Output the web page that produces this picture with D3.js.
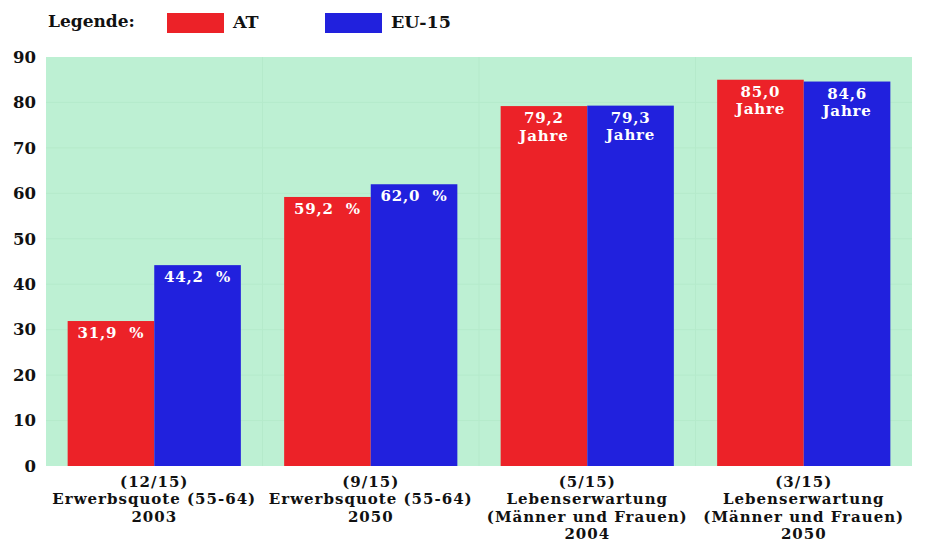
<!DOCTYPE html>
<html>
<head>
<meta charset="utf-8">
<script src="https://cdn.jsdelivr.net/npm/d3@7"></script>
<style>
  html, body { margin: 0; padding: 0; background: #ffffff; }
  svg { display: block; }
  text { font-family: "DejaVu Serif", "Liberation Serif", serif; font-weight: bold; }
</style>
</head>
<body>
<svg id="chart" width="932" height="544"></svg>
<script>
// Categories (multi-line labels), series and tick values
const categories = ["g2003", "g2050a", "g2004", "g2050b"];
const categoryLines = [
  ["(12/15)", "Erwerbsquote (55-64)", "2003"],
  ["(9/15)", "Erwerbsquote (55-64)", "2050"],
  ["(5/15)", "Lebenserwartung", "(Männer und Frauen)", "2004"],
  ["(3/15)", "Lebenserwartung", "(Männer und Frauen)", "2050"]
];
const seriesNames = ["AT", "EU-15"];
const valuesAT = [31.9, 59.2, 79.2, 85.0];
const valuesEU = [44.2, 62.0, 79.3, 84.6];
const unitsPerCategory = ["%", "%", "Jahre", "Jahre"];
const yTicks = [0, 10, 20, 30, 40, 50, 60, 70, 80, 90];
const colors = ["#ec2228", "#2121dd"];

const svg = d3.select("#chart");
const plot = { left: 46, right: 912, top: 57, bottom: 466 };

const x = d3.scaleBand().domain(categories).range([plot.left, plot.right])
  .paddingInner(0.2).paddingOuter(0.1);
const xs = d3.scaleBand().domain(seriesNames).range([0, x.bandwidth()]);
const y = d3.scaleLinear().domain([0, 90]).range([plot.bottom, plot.top]);

// Plot background
svg.append("rect")
  .attr("x", plot.left).attr("y", plot.top)
  .attr("width", plot.right - plot.left).attr("height", plot.bottom - plot.top)
  .attr("fill", "#bdf0d3");

// Faint horizontal grid lines
svg.append("g").selectAll("line").data(yTicks.slice(1, -1)).join("line")
  .attr("x1", plot.left).attr("x2", plot.right)
  .attr("y1", d => y(d)).attr("y2", d => y(d))
  .attr("stroke", "#b5eacb").attr("stroke-width", 1);

// Faint vertical separators between groups
const step = x.step();
svg.append("g").selectAll("line").data(categories.slice(1)).join("line")
  .attr("x1", d => x(d) - step * 0.1).attr("x2", d => x(d) - step * 0.1)
  .attr("y1", plot.top).attr("y2", plot.bottom)
  .attr("stroke", "#b5eacb").attr("stroke-width", 1);

// Y axis labels
const yAxis = d3.axisLeft(y).tickValues(yTicks).tickSize(0).tickPadding(10);
const ga = svg.append("g").attr("transform", `translate(${plot.left},0)`).call(yAxis);
ga.select(".domain").remove();
ga.selectAll("text")
  .style("font-family", "'DejaVu Serif', serif")
  .attr("font-weight", "bold").attr("font-size", 16.5).attr("fill", "#111");

// Bars
const rows = categories.map((c, i) => ({ c, i, vals: [valuesAT[i], valuesEU[i]] }));
const groups = svg.append("g").selectAll("g").data(rows).join("g")
  .attr("transform", d => `translate(${x(d.c)},0)`);

groups.selectAll("rect").data(d => d.vals.map((v, k) => ({ v, k, i: d.i }))).join("rect")
  .attr("x", d => xs(seriesNames[d.k]))
  .attr("y", d => y(d.v))
  .attr("width", xs.bandwidth())
  .attr("height", d => y(0) - y(d.v))
  .attr("fill", d => colors[d.k]);

// Value labels inside bars
groups.selectAll("text.val").data(d => d.vals.map((v, k) => ({ v, k, i: d.i }))).join("text")
  .attr("class", "val")
  .attr("x", d => xs(seriesNames[d.k]) + xs.bandwidth() / 2)
  .attr("y", d => y(d.v) + 17)
  .attr("text-anchor", "middle")
  .attr("fill", "#ffffff").attr("font-size", 15)
  .attr("letter-spacing", 0.8)
  .attr("xml:space", "preserve")
  .each(function (d) {
    const t = d3.select(this);
    const num = d.v.toFixed(1).replace(".", ",");
    if (unitsPerCategory[d.i] === "%") {
      t.text(num + "  %");
    } else {
      t.append("tspan").attr("x", xs(seriesNames[d.k]) + xs.bandwidth() / 2).text(num);
      t.append("tspan").attr("x", xs(seriesNames[d.k]) + xs.bandwidth() / 2).attr("dy", 17.5).text(unitsPerCategory[d.i]);
    }
  });

// Category labels
const lab = svg.append("g").selectAll("text").data(rows).join("text")
  .attr("text-anchor", "middle").attr("font-size", 15)
  .attr("letter-spacing", 1).attr("fill", "#111");
lab.each(function (d) {
  const cx = x(d.c) + x.bandwidth() / 2;
  d3.select(this).selectAll("tspan").data(categoryLines[d.i]).join("tspan")
    .attr("x", cx).attr("y", (s, j) => 486.5 + j * 17.5).text(s => s);
});

// Legend
const legend = svg.append("g");
legend.append("text").attr("x", 48).attr("y", 27).attr("font-size", 17).attr("fill", "#111").text("Legende:");
const legX = [167, 325];
seriesNames.forEach((s, k) => {
  legend.append("rect").attr("x", legX[k]).attr("y", 13).attr("width", 57).attr("height", 20).attr("fill", colors[k]);
  legend.append("text").attr("x", legX[k] + 66).attr("y", 28).attr("font-size", 17.5).attr("fill", "#111").text(s);
});
</script>
</body>
</html>
